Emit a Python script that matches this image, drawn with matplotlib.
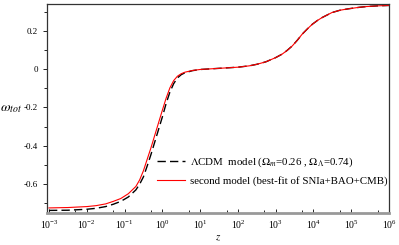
import numpy as np
import matplotlib
matplotlib.use("Agg")
import matplotlib.pyplot as plt
from matplotlib.ticker import FixedLocator, MultipleLocator, LogFormatterSciNotation

plt.rcParams['font.family'] = ['Liberation Serif', 'DejaVu Serif']
plt.rcParams['mathtext.fontset'] = 'stix'

# log10(z) and omega_tot
logz_lcdm = [-3.0, -2.5, -2.0, -1.75, -1.5, -1.3, -1.1, -0.9, -0.7, -0.6, -0.5, -0.4,
             -0.3, -0.2, -0.1, 0.0, 0.1, 0.2, 0.3, 0.4, 0.5, 0.6, 0.8, 1.0, 1.5, 2.0,
             2.3, 2.5, 2.74, 3.0, 3.17, 3.3, 3.44, 3.57, 3.70, 3.84, 3.97, 4.1, 4.23,
             4.49, 4.7, 4.94, 5.2, 5.39, 5.7, 6.0]
w_lcdm = [-0.737, -0.736, -0.731, -0.726, -0.717, -0.705, -0.69, -0.667, -0.63, -0.60,
          -0.562, -0.505, -0.445, -0.38, -0.315, -0.25, -0.18, -0.12, -0.076, -0.046,
          -0.029, -0.019, -0.008, -0.002, 0.004, 0.01, 0.017, 0.025, 0.038, 0.06, 0.078,
          0.097, 0.121, 0.15, 0.182, 0.21, 0.234, 0.253, 0.269, 0.295, 0.307, 0.315,
          0.322, 0.326, 0.330, 0.332]

logz_second = [-3.0, -2.5, -2.0, -1.75, -1.5, -1.3, -1.1, -0.9, -0.7, -0.6, -0.5, -0.4,
               -0.3, -0.2, -0.1, 0.0, 0.1, 0.2, 0.3, 0.4, 0.5, 0.6, 0.8, 1.0, 1.5, 2.0,
               2.3, 2.5, 2.74, 3.0, 3.17, 3.3, 3.44, 3.57, 3.70, 3.84, 3.97, 4.1, 4.23,
               4.49, 4.7, 4.94, 5.2, 5.39, 5.7, 6.0]
w_second = [-0.724, -0.722, -0.717, -0.712, -0.703, -0.69, -0.675, -0.65, -0.612, -0.578,
            -0.53, -0.47, -0.41, -0.345, -0.28, -0.215, -0.152, -0.098, -0.06, -0.037,
            -0.024, -0.016, -0.007, -0.002, 0.004, 0.01, 0.017, 0.025, 0.038, 0.06, 0.078,
            0.097, 0.121, 0.15, 0.182, 0.21, 0.234, 0.253, 0.269, 0.295, 0.307, 0.315,
            0.322, 0.326, 0.330, 0.332]

x_decades = [-3, -2, -1, 0, 1, 2, 3, 4, 5, 6]
y_ticks = [-0.6, -0.4, -0.2, 0, 0.2]
y_ticklabels = ['-0.6', '-0.4', '-0.2', '0', '0.2']

z_lcdm = 10 ** np.array(logz_lcdm)
z_second = 10 ** np.array(logz_second)

fig = plt.figure(figsize=(3.99, 2.45), dpi=100)
ax = fig.add_axes([0.118, 0.131, 0.857, 0.853])

ax.plot(z_lcdm, w_lcdm, color='black', lw=1.0, dashes=(6, 3),
        label=r'$\Lambda$CDM  model ($\Omega_m$=0.26 , $\Omega_\Lambda$=0.74)')
ax.plot(z_second, w_second, color='red', lw=0.8,
        label='second model (best-fit of SNIa+BAO+CMB)')

ax.set_xscale('log')
ax.set_xlim(10 ** -3.05, 10 ** 6.0)
ax.set_ylim(-0.75, 0.34)

ax.xaxis.set_major_locator(FixedLocator([10.0 ** d for d in x_decades]))
ax.xaxis.set_major_formatter(LogFormatterSciNotation())
ax.xaxis.set_minor_locator(FixedLocator([5 * 10.0 ** d for d in x_decades[:-1]]))
ax.yaxis.set_major_locator(FixedLocator(y_ticks))
ax.yaxis.set_minor_locator(MultipleLocator(0.1))
ax.set_yticklabels(y_ticklabels)

ax.tick_params(axis='y', which='major', labelsize=6.5, width=0.6, length=3)
ax.tick_params(axis='x', which='major', labelsize=7, width=0.6, length=3)
ax.tick_params(axis='both', which='minor', width=0.6, length=2)
ax.tick_params(axis='x', which='both', direction='in', pad=4)

for s in ['left', 'top', 'right']:
    ax.spines[s].set_linewidth(0.9)
    ax.spines[s].set_color('#333333')
ax.spines['bottom'].set_color('#999999')
ax.spines['bottom'].set_linewidth(2)

ax.set_xlabel(r'$z$', fontsize=8, labelpad=2)
ax.set_ylabel(r'$\omega_{tot}$', fontsize=10, rotation=0, ha='center', va='center')
ax.yaxis.set_label_coords(-0.105, 0.5)

ax.legend(loc='lower right', bbox_to_anchor=(1.025, 0.08), frameon=False,
          fontsize=7.8, handlelength=2.6, labelspacing=0.65, handletextpad=0.5)

fig.savefig('out.png', dpi=100)
